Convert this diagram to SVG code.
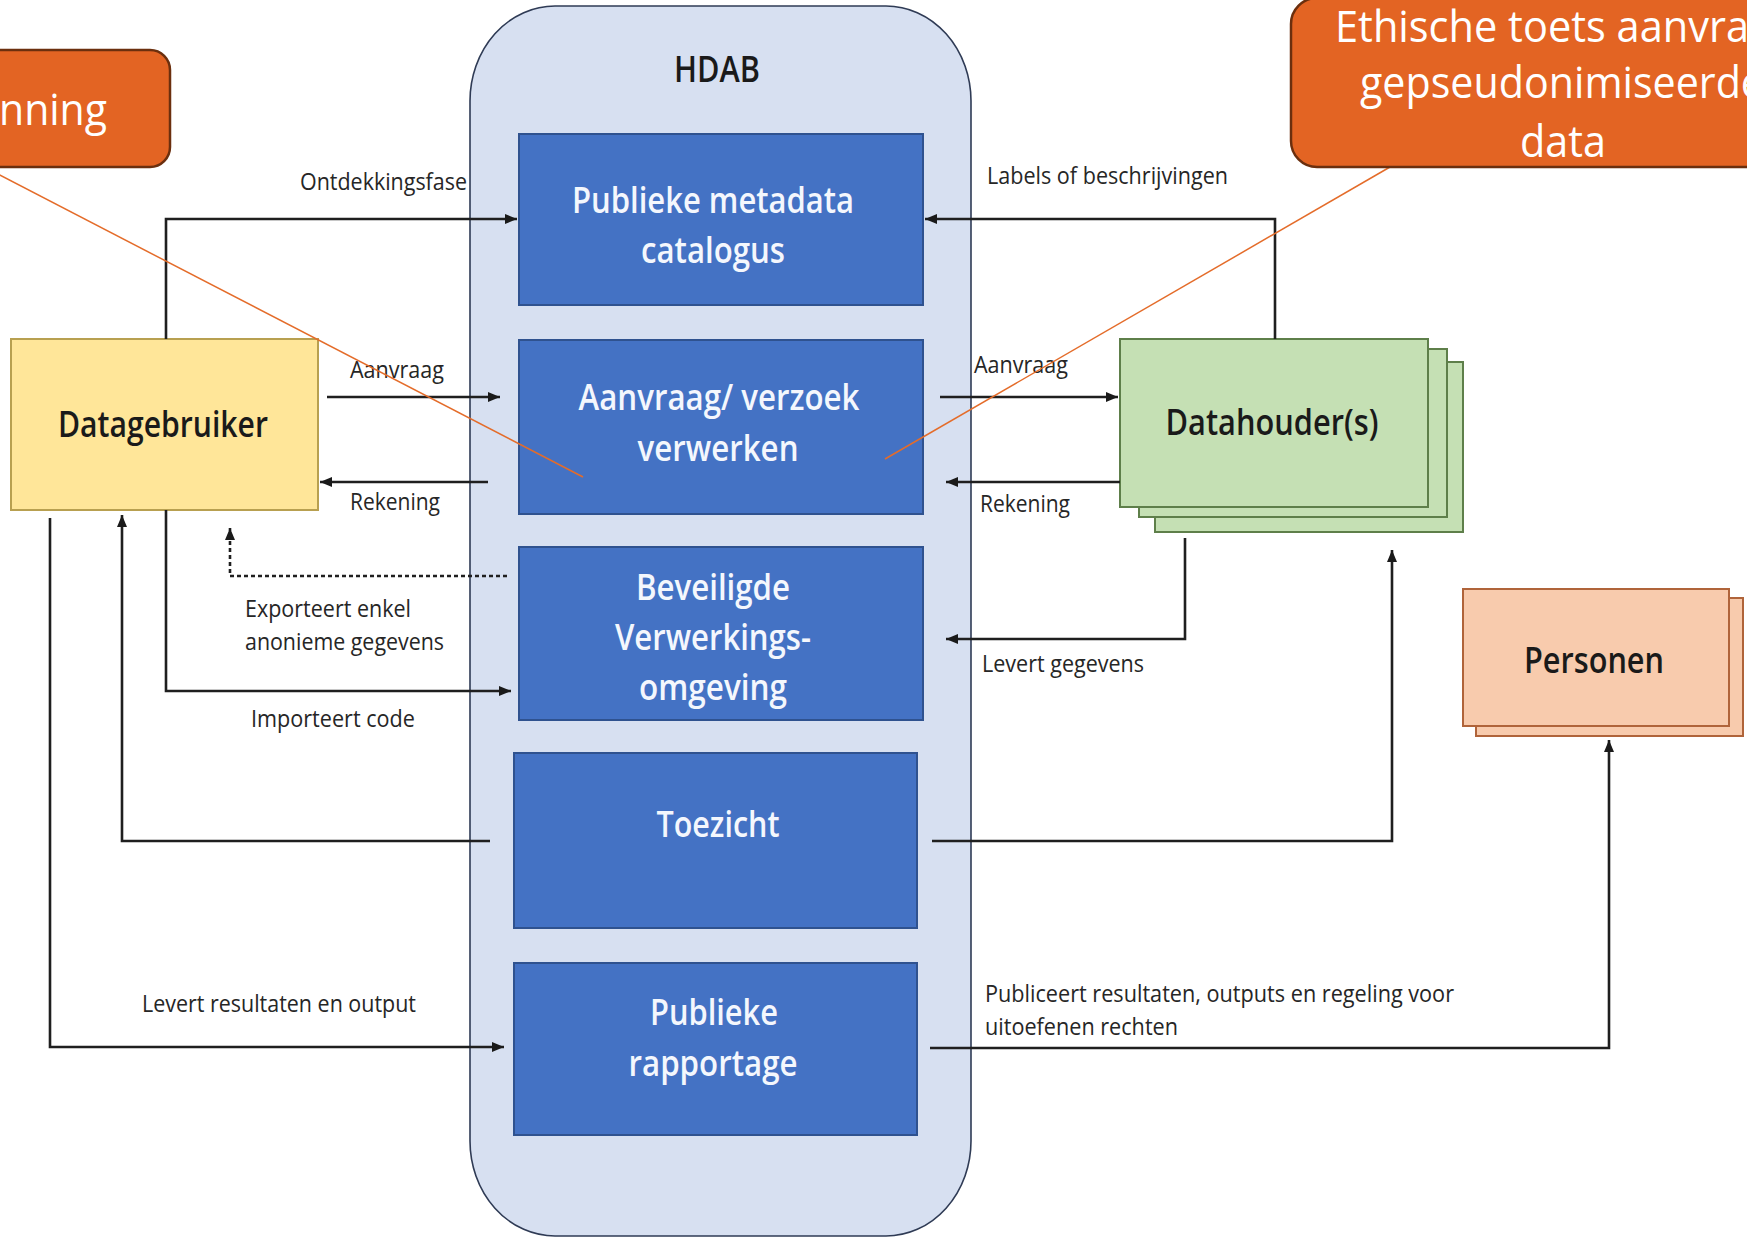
<svg xmlns="http://www.w3.org/2000/svg" width="1747" height="1239" viewBox="0 0 1747 1239">
<style>
.lbl{font-family:"Open Sans","Liberation Sans",sans-serif;font-size:24px;font-weight:500;fill:#262626}
.nt{font-family:"Open Sans","Liberation Sans",sans-serif;font-size:36px;font-weight:600;text-anchor:middle}
.wt{fill:#F4F7FD}
.bt{fill:#1a1a1a}
.blue{fill:#4472C4;stroke:#2F528F;stroke-width:2}
.con{fill:none;stroke:#1f1f1f;stroke-width:2.6;marker-end:url(#ah)}
.call{fill:#E36423;stroke:#6B2F0E;stroke-width:2.5}
.ct{font-family:"Open Sans","Liberation Sans",sans-serif;font-size:43px;fill:#ffffff}
.cl{stroke:#E46C2A;stroke-width:1.5;fill:none}
</style>
<defs>
<marker id="ah" viewBox="0 0 12 10" refX="12" refY="5" markerWidth="12" markerHeight="10" markerUnits="userSpaceOnUse" orient="auto">
<path d="M0,0 L12,5 L0,10 Z" fill="#1a1a1a"/>
</marker>
</defs>
<rect x="0" y="0" width="1747" height="1239" fill="#ffffff"/>

<g id="hdab">
<rect x="470" y="6" width="501" height="1230" rx="85" ry="95" fill="#D7E0F1" stroke="#2F3B55" stroke-width="1.6"/>
<text class="nt bt" x="717" y="82" textLength="86" lengthAdjust="spacingAndGlyphs" font-weight="500">HDAB</text>
</g>

<g id="catalogus">
<rect class="blue" x="519" y="134" width="404" height="171"/>
<text class="nt wt" x="713" y="213" textLength="282" lengthAdjust="spacingAndGlyphs">Publieke metadata</text>
<text class="nt wt" x="713" y="263" textLength="144" lengthAdjust="spacingAndGlyphs">catalogus</text>
</g>

<g id="aanvraag">
<rect class="blue" x="519" y="340" width="404" height="174"/>
<text class="nt wt" x="719" y="410" textLength="281" lengthAdjust="spacingAndGlyphs">Aanvraag/ verzoek</text>
<text class="nt wt" x="718" y="461" textLength="161" lengthAdjust="spacingAndGlyphs">verwerken</text>
</g>

<g id="beveiligde">
<rect class="blue" x="519" y="547" width="404" height="173"/>
<text class="nt wt" x="713" y="600" textLength="154" lengthAdjust="spacingAndGlyphs">Beveiligde</text>
<text class="nt wt" x="713" y="650" textLength="196" lengthAdjust="spacingAndGlyphs">Verwerkings-</text>
<text class="nt wt" x="713" y="700" textLength="148" lengthAdjust="spacingAndGlyphs">omgeving</text>
</g>

<g id="toezicht">
<rect class="blue" x="514" y="753" width="403" height="175"/>
<text class="nt wt" x="718" y="837" textLength="123" lengthAdjust="spacingAndGlyphs">Toezicht</text>
</g>

<g id="rapportage">
<rect class="blue" x="514" y="963" width="403" height="172"/>
<text class="nt wt" x="714" y="1025" textLength="128" lengthAdjust="spacingAndGlyphs">Publieke</text>
<text class="nt wt" x="713" y="1076" textLength="169" lengthAdjust="spacingAndGlyphs">rapportage</text>
</g>

<g id="datagebruiker">
<rect x="11" y="339" width="307" height="171" fill="#FFE699" stroke="#B8A050" stroke-width="2"/>
<text class="nt bt" x="163" y="437" textLength="210" lengthAdjust="spacingAndGlyphs">Datagebruiker</text>
</g>

<g id="datahouders">
<rect x="1155" y="362" width="308" height="170" fill="#C5E0B4" stroke="#5E7F4A" stroke-width="2"/>
<rect x="1139" y="349" width="308" height="168" fill="#C5E0B4" stroke="#5E7F4A" stroke-width="2"/>
<rect x="1120" y="339" width="308" height="168" fill="#C5E0B4" stroke="#5E7F4A" stroke-width="2"/>
<text class="nt bt" x="1272" y="435" textLength="213" lengthAdjust="spacingAndGlyphs">Datahouder(s)</text>
</g>

<g id="personen">
<rect x="1476" y="598" width="267" height="138" fill="#F8CBAD" stroke="#B0643A" stroke-width="2"/>
<rect x="1463" y="589" width="266" height="137" fill="#F8CBAD" stroke="#B0643A" stroke-width="2"/>
<text class="nt bt" x="1594" y="673" textLength="140" lengthAdjust="spacingAndGlyphs">Personen</text>
</g>

<g id="connectors">
<path class="con" d="M166,339 V219 H517"/>
<path class="con" d="M1275,339 V219 H925"/>
<path class="con" d="M327,397 H500"/>
<path class="con" d="M488,482 H320"/>
<path class="con" d="M507,576 H230 V528" stroke-dasharray="4 3" stroke-width="2.2"/>
<path class="con" d="M166,510 V691 H511"/>
<path class="con" d="M490,841 H122 V515" stroke="#3a3a3a" stroke-width="3"/>
<path class="con" d="M50,518 V1047 H504" stroke="#3a3a3a" stroke-width="3"/>
<path class="con" d="M940,397 H1118"/>
<path class="con" d="M1120,482 H946"/>
<path class="con" d="M1185,538 V639 H946" stroke="#3a3a3a" stroke-width="3"/>
<path class="con" d="M932,841 H1392 V550" stroke="#3a3a3a" stroke-width="3"/>
<path class="con" d="M930,1048 H1609 V740" stroke="#3a3a3a" stroke-width="3"/>
<text class="lbl" x="300" y="190" textLength="167" lengthAdjust="spacingAndGlyphs">Ontdekkingsfase</text>
<text class="lbl" x="987" y="184" textLength="241" lengthAdjust="spacingAndGlyphs">Labels of beschrijvingen</text>
<text class="lbl" x="350" y="378" textLength="94" lengthAdjust="spacingAndGlyphs">Aanvraag</text>
<text class="lbl" x="350" y="510" textLength="90" lengthAdjust="spacingAndGlyphs">Rekening</text>
<text class="lbl" x="245" y="617" textLength="166" lengthAdjust="spacingAndGlyphs">Exporteert enkel</text>
<text class="lbl" x="245" y="650" textLength="199" lengthAdjust="spacingAndGlyphs">anonieme gegevens</text>
<text class="lbl" x="251" y="727" textLength="164" lengthAdjust="spacingAndGlyphs">Importeert code</text>
<text class="lbl" x="142" y="1012" textLength="274" lengthAdjust="spacingAndGlyphs">Levert resultaten en output</text>
<text class="lbl" x="974" y="373" textLength="94" lengthAdjust="spacingAndGlyphs">Aanvraag</text>
<text class="lbl" x="980" y="512" textLength="90" lengthAdjust="spacingAndGlyphs">Rekening</text>
<text class="lbl" x="982" y="672" textLength="162" lengthAdjust="spacingAndGlyphs">Levert gegevens</text>
<text class="lbl" x="985" y="1002" textLength="469" lengthAdjust="spacingAndGlyphs">Publiceert resultaten, outputs en regeling voor</text>
<text class="lbl" x="985" y="1035" textLength="193" lengthAdjust="spacingAndGlyphs">uitoefenen rechten</text>
</g>

<g id="callout-left">
<path class="cl" d="M-10,170 L583,477"/>
<rect class="call" x="-40" y="50" width="210" height="117" rx="20" ry="20"/>
<text class="ct" x="-1" y="125" textLength="108" lengthAdjust="spacingAndGlyphs">nning</text>
</g>

<g id="callout-right">
<path class="cl" d="M1390,167 L885,459"/>
<rect class="call" x="1291" y="-2" width="520" height="169" rx="26" ry="26"/>
<text class="ct" x="1335" y="42" textLength="414" lengthAdjust="spacingAndGlyphs">Ethische toets aanvra</text>
<text class="ct" x="1360" y="98" textLength="404" lengthAdjust="spacingAndGlyphs">gepseudonimiseerde</text>
<text class="ct" x="1563" y="157" text-anchor="middle" textLength="86" lengthAdjust="spacingAndGlyphs">data</text>
</g>
</svg>
